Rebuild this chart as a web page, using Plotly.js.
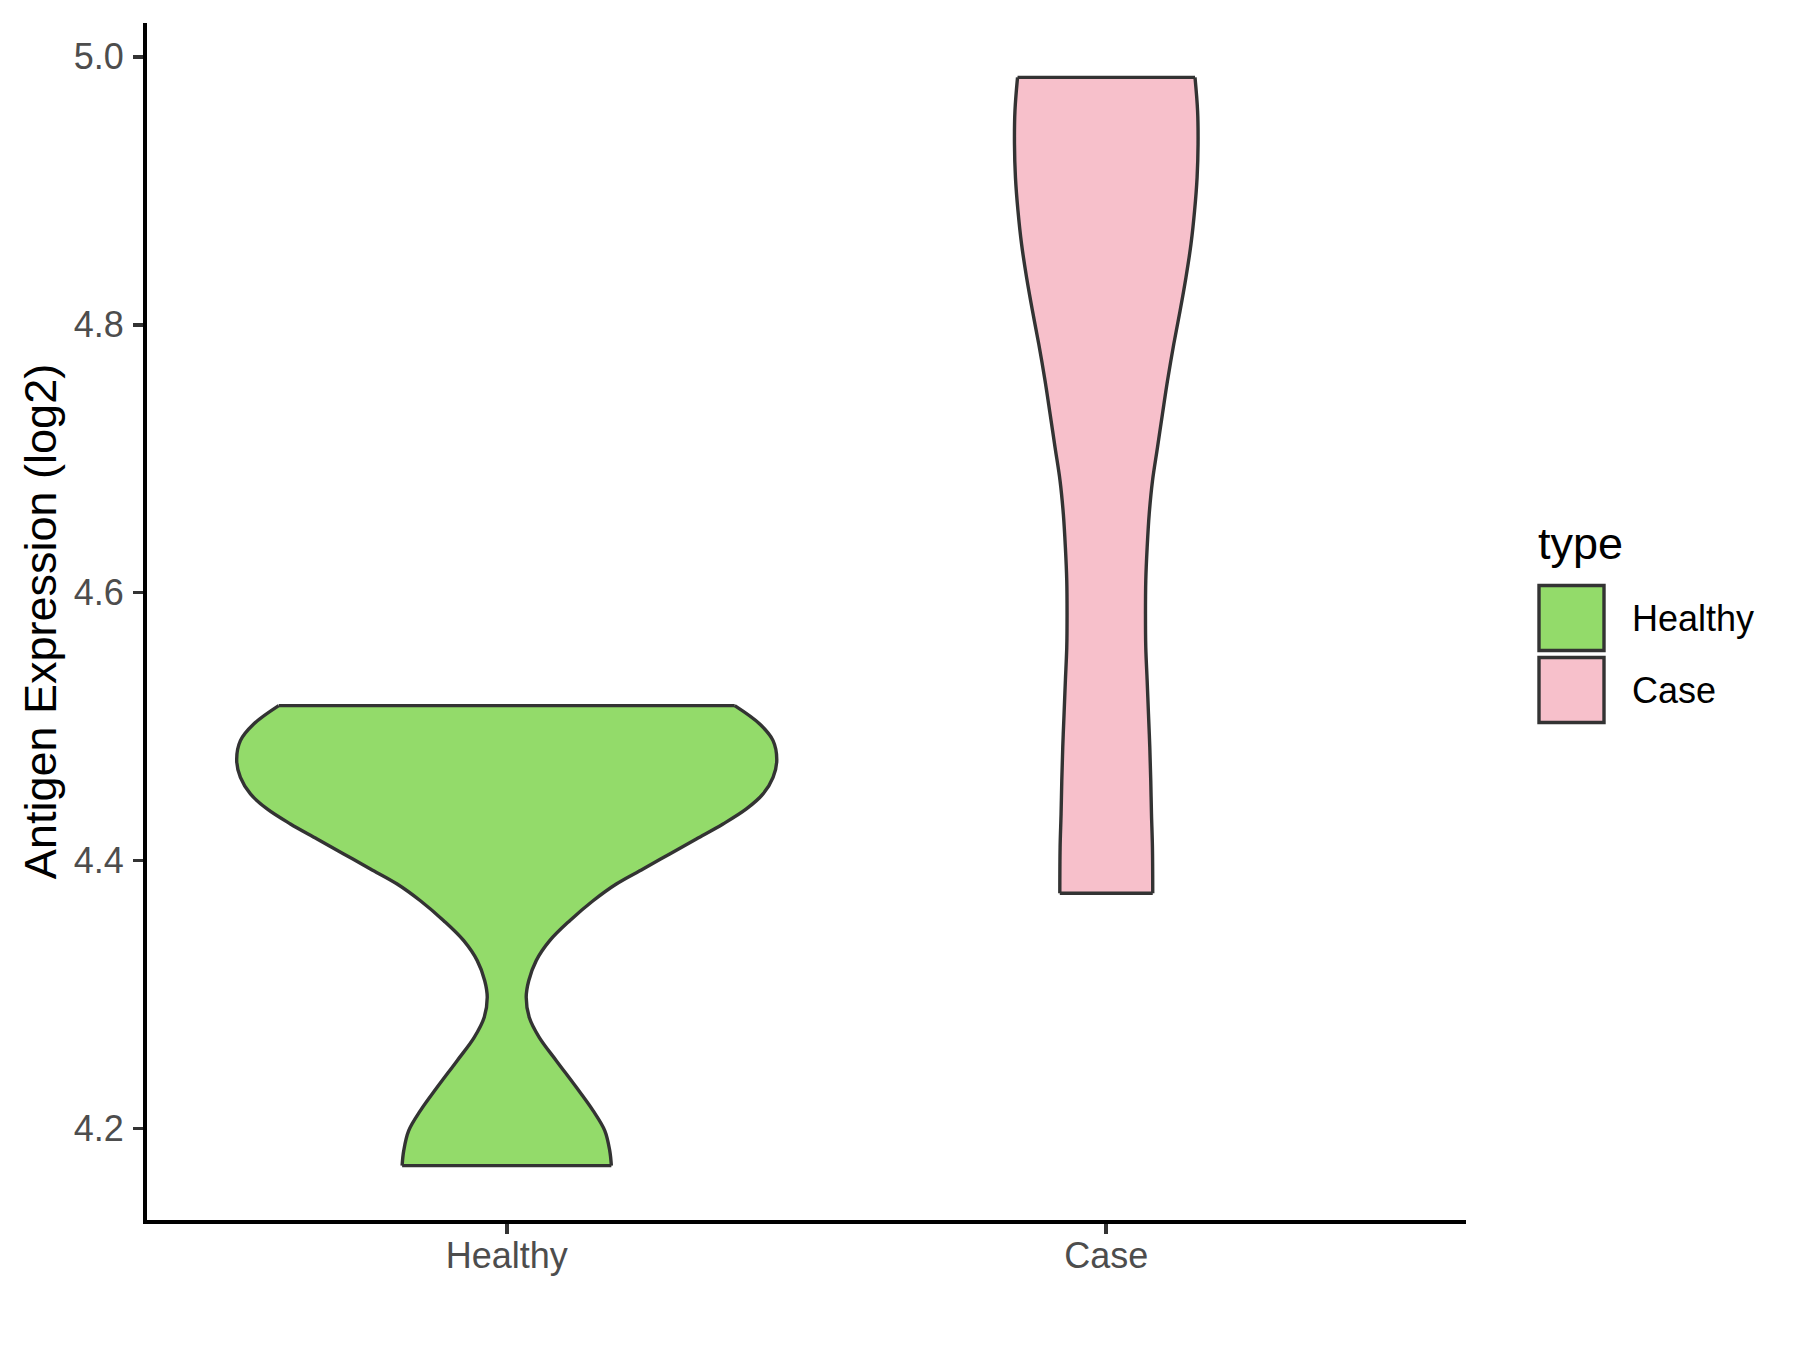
<!DOCTYPE html>
<html>
<head>
<meta charset="utf-8">
<script src="https://cdn.plot.ly/plotly-3.0.1.min.js"></script>
<style>
  html, body { margin: 0; padding: 0; background: #ffffff; }
  #chart { width: 1800px; height: 1350px; }
</style>
</head>
<body>
<div id="chart"></div>
<script>
// Groups on the x axis (position 1, 2, ...)
const categories = ['Healthy', 'Case'];

// Violin outlines: expression level (log2) and density half-width (x units)
const healthyY = [4.5157, 4.5020, 4.4896, 4.4746, 4.4622, 4.4498, 4.4386, 4.4274, 4.4162, 4.4050,
                  4.3938, 4.3826, 4.3701, 4.3552, 4.3403, 4.3254, 4.3104, 4.2980, 4.2831, 4.2681,
                  4.2507, 4.2308, 4.2134, 4.1985, 4.1836, 4.1724];
const healthyHalfWidth = [0.3803, 0.4220, 0.4442, 0.4504, 0.4442, 0.4275, 0.3997, 0.3608, 0.3163, 0.2719,
                          0.2274, 0.1828, 0.1440, 0.1051, 0.0717, 0.0492, 0.0367, 0.0325, 0.0375, 0.0542,
                          0.0827, 0.1161, 0.1440, 0.1635, 0.1718, 0.1745];

const caseY = [4.9846, 4.9597, 4.9348, 4.9100, 4.8851, 4.8602, 4.8353, 4.8104, 4.7856, 4.7582,
               4.7334, 4.7084, 4.6836, 4.6587, 4.6338, 4.6090, 4.5841, 4.5592, 4.5343, 4.5095,
               4.4846, 4.4597, 4.4348, 4.4099, 4.3757];
const caseHalfWidth = [0.1480, 0.1523, 0.1531, 0.1515, 0.1473, 0.1413, 0.1329, 0.1231, 0.1126, 0.1021,
                       0.0937, 0.0854, 0.0771, 0.0716, 0.0682, 0.0659, 0.0654, 0.0659, 0.0682, 0.0704,
                       0.0726, 0.0742, 0.0754, 0.0770, 0.0775];

// Axis ticks
const yTickValues = [4.2, 4.4, 4.6, 4.8, 5.0];
const yTickLabels = ['4.2', '4.4', '4.6', '4.8', '5.0'];

// Styling
const groupFills = ['#93DB6A', '#F7C0CB'];
const outlineColor = '#333333';
const FONT = 'Liberation Sans, Arial, Helvetica, sans-serif';

const groups = [
  { name: categories[0], y: healthyY, hw: healthyHalfWidth, fill: groupFills[0] },
  { name: categories[1], y: caseY, hw: caseHalfWidth, fill: groupFills[1] }
];

const traces = [];
groups.forEach((g, gi) => {
  const c = gi + 1;
  const n = g.y.length;
  const left = g.hw.map(w => c - w);
  const right = g.hw.map(w => c + w);

  // filled body: left side top->bottom, then right side bottom->top
  traces.push({
    type: 'scatter', mode: 'lines',
    x: left.concat(right.slice().reverse()),
    y: g.y.concat(g.y.slice().reverse()),
    fill: 'toself', fillcolor: g.fill,
    line: { width: 0, color: 'rgba(0,0,0,0)', simplify: false },
    hoverinfo: 'skip', showlegend: false
  });

  // outline: flat top, smooth sides, flat bottom
  traces.push({
    type: 'scatter', mode: 'lines',
    x: [left[0], right[0], null].concat(left, [null], right, [null, left[n - 1], right[n - 1]]),
    y: [g.y[0], g.y[0], null].concat(g.y, [null], g.y, [null, g.y[n - 1], g.y[n - 1]]),
    line: { color: outlineColor, width: 3.4, shape: 'spline', smoothing: 1, simplify: false },
    connectgaps: false,
    hoverinfo: 'skip', showlegend: false
  });
});

// plot-area geometry in pixels, used to place the legend block
const W = 1800, H = 1350;
const M = { l: 147, r: 334, t: 23, b: 130 };
const pw = W - M.l - M.r, ph = H - M.t - M.b;
const px = x => (x - M.l) / pw;
const py = y => (H - M.b - y) / ph;

const shapes = [];
const annotations = [];

annotations.push({
  xref: 'paper', yref: 'paper', x: px(1536), y: py(543),
  xanchor: 'left', yanchor: 'middle', showarrow: false,
  text: 'type', font: { family: FONT, size: 45, color: '#000000' }
});

groups.forEach((g, gi) => {
  const top = 585.5 + gi * 72;
  shapes.push({
    type: 'rect', xref: 'paper', yref: 'paper',
    x0: px(1539), x1: px(1604), y0: py(top), y1: py(top + 65),
    fillcolor: g.fill, line: { color: outlineColor, width: 3.4 }
  });
  annotations.push({
    xref: 'paper', yref: 'paper', x: px(1630), y: py(top + 33),
    xanchor: 'left', yanchor: 'middle', showarrow: false,
    text: g.name, font: { family: FONT, size: 36, color: '#000000' }
  });
});

const layout = {
  width: W, height: H,
  margin: M,
  paper_bgcolor: '#ffffff', plot_bgcolor: '#ffffff',
  showlegend: false,
  hovermode: false,
  font: { family: FONT },
  xaxis: {
    range: [0.4, 2.6],
    tickvals: categories.map((_, i) => i + 1),
    ticktext: categories,
    showgrid: false, zeroline: false,
    showline: true, linecolor: '#000000', linewidth: 4,
    ticks: 'outside', ticklen: 10, tickwidth: 3.6, tickcolor: outlineColor,
    tickfont: { family: FONT, size: 36, color: '#4D4D4D' },
    ticklabelstandoff: -9,
    automargin: false
  },
  yaxis: {
    range: [4.1318, 5.0252],
    tickvals: yTickValues,
    ticktext: yTickLabels,
    showgrid: false, zeroline: false,
    showline: true, linecolor: '#000000', linewidth: 4,
    ticks: 'outside', ticklen: 10, tickwidth: 3.6, tickcolor: outlineColor,
    tickfont: { family: FONT, size: 36, color: '#4D4D4D' },
    ticklabelstandoff: 2,
    title: { text: 'Antigen Expression (log2)', font: { family: FONT, size: 45, color: '#000000' }, standoff: 4 },
    automargin: false
  },
  shapes: shapes,
  annotations: annotations
};

Plotly.newPlot('chart', traces, layout, { displayModeBar: false, staticPlot: true });
</script>
</body>
</html>
